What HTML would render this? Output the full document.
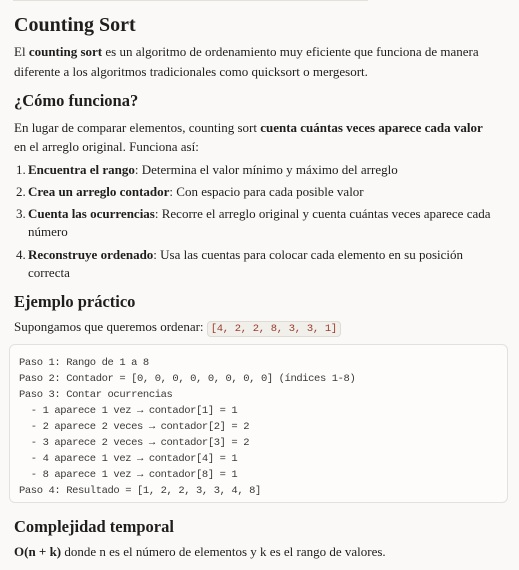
<!DOCTYPE html>
<html><head><meta charset="utf-8"><style>
body{margin:0;width:519px;height:570px;background:#faf9f7;font-family:"Liberation Serif",serif;color:#1f1e1d;position:relative;overflow:hidden;font-size:13px}
.a{position:absolute;left:14px;white-space:nowrap}
.topline{position:absolute;left:13px;top:0;width:355px;height:1px;background:#e3e1dc}
.code{position:absolute;left:9px;top:344px;width:499px;height:159px;background:#fdfcfb;border:1px solid #e3e1dc;border-radius:6px;box-sizing:border-box}
.code pre{margin:0;position:absolute;left:9px;top:10px;font-family:"Liberation Mono",monospace;font-size:10.5px;letter-spacing:-0.4px;line-height:16px;color:#3a3936}
.ic{font-family:"Liberation Mono",monospace;font-size:10.5px;letter-spacing:-0.3px;color:#9a3b2c;background:#f1efea;border:1px solid #dedbd5;border-radius:4px;padding:1px 3px}
.n{position:absolute;left:16px;white-space:nowrap}
.t{position:absolute;left:28px;white-space:nowrap}
</style></head><body>
<div class="topline"></div>
<div class="a" style="top:14px;font-size:20px;font-weight:bold">Counting Sort</div>
<div class="a" style="top:44px">El <b>counting sort</b> es un algoritmo de ordenamiento muy eficiente que funciona de manera</div>
<div class="a" style="top:64px">diferente a los algoritmos tradicionales como quicksort o mergesort.</div>
<div class="a" style="top:91px;font-size:16.5px;font-weight:bold">¿Cómo funciona?</div>
<div class="a" style="top:120px">En lugar de comparar elementos, counting sort <b>cuenta cuántas veces aparece cada valor</b></div>
<div class="a" style="top:139px">en el arreglo original. Funciona así:</div>
<div class="n" style="top:162px">1.</div><div class="t" style="top:162px"><b>Encuentra el rango</b>: Determina el valor mínimo y máximo del arreglo</div>
<div class="n" style="top:184px">2.</div><div class="t" style="top:184px"><b>Crea un arreglo contador</b>: Con espacio para cada posible valor</div>
<div class="n" style="top:206px">3.</div><div class="t" style="top:206px"><b>Cuenta las ocurrencias</b>: Recorre el arreglo original y cuenta cuántas veces aparece cada</div>
<div class="t" style="top:224px">número</div>
<div class="n" style="top:247px">4.</div><div class="t" style="top:247px"><b>Reconstruye ordenado</b>: Usa las cuentas para colocar cada elemento en su posición</div>
<div class="t" style="top:265px">correcta</div>
<div class="a" style="top:292px;font-size:16.5px;font-weight:bold">Ejemplo práctico</div>
<div class="a" style="top:319px">Supongamos que queremos ordenar: <span class="ic">[4, 2, 2, 8, 3, 3, 1]</span></div>
<div class="code"><pre>Paso 1: Rango de 1 a 8
Paso 2: Contador = [0, 0, 0, 0, 0, 0, 0, 0] (índices 1-8)
Paso 3: Contar ocurrencias
  - 1 aparece 1 vez → contador[1] = 1
  - 2 aparece 2 veces → contador[2] = 2
  - 3 aparece 2 veces → contador[3] = 2
  - 4 aparece 1 vez → contador[4] = 1
  - 8 aparece 1 vez → contador[8] = 1
Paso 4: Resultado = [1, 2, 2, 3, 3, 4, 8]</pre></div>
<div class="a" style="top:517px;font-size:16.5px;font-weight:bold">Complejidad temporal</div>
<div class="a" style="top:544px"><b>O(n + k)</b> donde n es el número de elementos y k es el rango de valores.</div>
</body></html>
